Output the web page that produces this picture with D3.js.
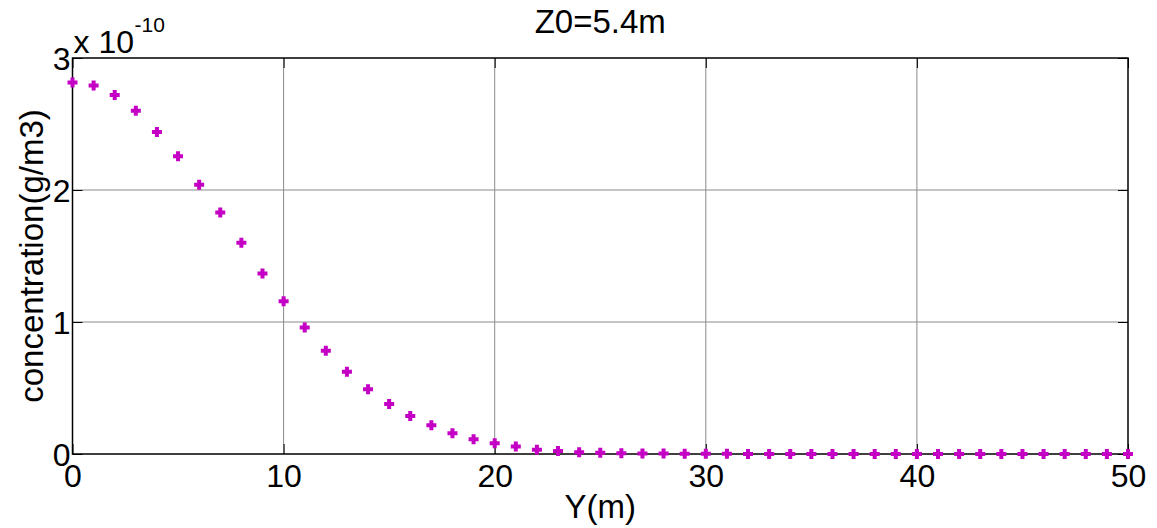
<!DOCTYPE html>
<html>
<head>
<meta charset="utf-8">
<script src="https://cdn.jsdelivr.net/npm/d3@7"></script>
<style>
  body { margin: 0; background: #fff; }
  svg { display: block; font-family: Arial, "Liberation Sans", sans-serif; }
</style>
</head>
<body>
<div id="chart"></div>
<script>
// Y position (m) and concentration (x 1e-10 g/m3)
const yPos = d3.range(0, 51);
const conc = [2.814, 2.791, 2.72, 2.60, 2.44, 2.255, 2.04, 1.83, 1.60, 1.367,
              1.157, 0.958, 0.783, 0.624, 0.490, 0.379, 0.288, 0.217, 0.157, 0.111,
              0.081, 0.056, 0.033, 0.022, 0.014, 0.009, 0.006, 0.004, 0.003, 0.002,
              0.001, 0.001, 0, 0, 0, 0, 0, 0, 0, 0,
              0, 0, 0, 0, 0, 0, 0, 0, 0, 0, 0];
const xTicks = [0, 10, 20, 30, 40, 50];
const yTicks = [0, 1, 2, 3];

const width = 1157, height = 528;
const margin = {top: 58, right: 29, bottom: 74, left: 72.5};

const svg = d3.select("#chart").append("svg")
    .attr("width", width)
    .attr("height", height);

const x = d3.scaleLinear()
    .domain([0, 50])
    .range([margin.left, width - margin.right]);
const y = d3.scaleLinear()
    .domain([0, 3])
    .range([height - margin.bottom, margin.top]);

// grid
svg.append("g")
    .selectAll("line")
    .data(xTicks.slice(1, -1))
    .join("line")
    .attr("x1", d => x(d)).attr("x2", d => x(d))
    .attr("y1", y(0)).attr("y2", y(3))
    .attr("stroke", "#8a8a8a").attr("stroke-width", 1);
svg.append("g")
    .selectAll("line")
    .data(yTicks.slice(1, -1))
    .join("line")
    .attr("y1", d => y(d)).attr("y2", d => y(d))
    .attr("x1", x(0)).attr("x2", x(50))
    .attr("stroke", "#8a8a8a").attr("stroke-width", 1);

// inside ticks on all four sides
const tl = 10;
const xAxisB = d3.axisBottom(x).tickValues(xTicks).tickSize(-tl).tickFormat(d3.format("d"));
const xAxisT = d3.axisTop(x).tickValues(xTicks).tickSize(-tl).tickFormat("");
const yAxisL = d3.axisLeft(y).tickValues(yTicks).tickSize(-tl).tickFormat(d3.format("d"));
const yAxisR = d3.axisRight(y).tickValues(yTicks).tickSize(-tl).tickFormat("");

const gb = svg.append("g").attr("transform", `translate(0,${y(0)})`).call(xAxisB);
const gt = svg.append("g").attr("transform", `translate(0,${y(3)})`).call(xAxisT);
const gl = svg.append("g").attr("transform", `translate(${x(0)},0)`).call(yAxisL);
const gr = svg.append("g").attr("transform", `translate(${x(50)},0)`).call(yAxisR);

[gb, gt, gl, gr].forEach(g => {
  g.select(".domain").remove();
  g.selectAll(".tick line").attr("stroke", "#000").attr("stroke-width", 1);
});
gb.selectAll(".tick text")
    .attr("font-size", 32).attr("fill", "#000")
    .attr("font-family", "Arial, 'Liberation Sans', sans-serif")
    .attr("y", 10).attr("dy", "0.71em");
gl.selectAll(".tick text")
    .attr("font-size", 32).attr("fill", "#000")
    .attr("font-family", "Arial, 'Liberation Sans', sans-serif")
    .attr("x", -2).attr("dy", "0.36em");

// box
svg.append("rect")
    .attr("x", x(0)).attr("y", y(3))
    .attr("width", x(50) - x(0)).attr("height", y(0) - y(3))
    .attr("fill", "none").attr("stroke", "#000").attr("stroke-width", 1.5);

// markers
svg.append("g")
    .selectAll("path")
    .data(yPos)
    .join("path")
    .attr("d", (d, i) => {
      const cx = x(d), cy = y(conc[i]), r = 5;
      return `M${cx - r},${cy}H${cx + r}M${cx},${cy - r}V${cy + r}`;
    })
    .attr("stroke", "#c400c4")
    .attr("stroke-width", 4)
    .attr("fill", "none");

// exponent label
const ex = svg.append("text")
    .attr("x", x(0) + 1).attr("y", 53)
    .attr("font-size", 32).attr("fill", "#000");
ex.append("tspan").text("x 10");
svg.append("text")
    .attr("x", x(0) + 62).attr("y", 32)
    .attr("font-size", 21).attr("fill", "#000")
    .text("-10");

// title
svg.append("text")
    .attr("x", (x(0) + x(50)) / 2).attr("y", 33)
    .attr("text-anchor", "middle")
    .attr("font-size", 33).attr("fill", "#000")
    .text("Z0=5.4m");

// axis labels
svg.append("text")
    .attr("x", (x(0) + x(50)) / 2).attr("y", 518)
    .attr("text-anchor", "middle")
    .attr("font-size", 33).attr("fill", "#000")
    .text("Y(m)");

svg.append("text")
    .attr("transform", `translate(43,${(y(0) + y(3)) / 2}) rotate(-90)`)
    .attr("text-anchor", "middle")
    .attr("font-size", 33).attr("fill", "#000")
    .text("concentration(g/m3)");
</script>
</body>
</html>
